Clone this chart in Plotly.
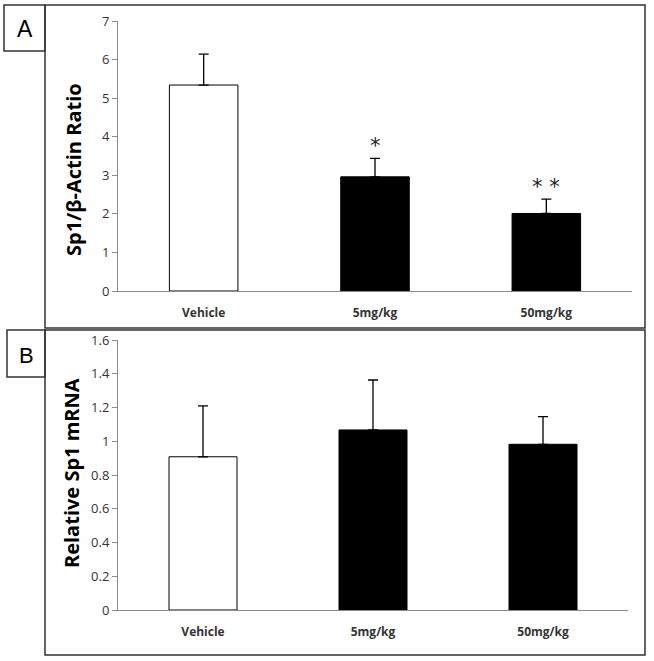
import plotly.graph_objects as go

categories = ["Vehicle", "5mg/kg", "50mg/kg"]
ratio_values = [5.34, 2.96, 2.01]
ratio_errors = [0.80, 0.48, 0.37]
mrna_values = [0.908, 1.067, 0.982]
mrna_errors = [0.302, 0.296, 0.164]
significance = ["", "*", "**"]
bar_colors = ["white", "black", "black"]

W, H = 654, 661
def px(x): return x / W
def py(y): return 1 - y / H

fig = go.Figure()
fig.add_trace(go.Bar(
    x=categories, y=ratio_values, xaxis="x", yaxis="y",
    marker=dict(color=bar_colors, line=dict(color="black", width=1)),
    error_y=dict(type="data", array=ratio_errors, arrayminus=[0, 0, 0], symmetric=False,
                 color="black", thickness=1.3, width=5),
    showlegend=False, hoverinfo="skip"))
fig.add_trace(go.Bar(
    x=categories, y=mrna_values, xaxis="x2", yaxis="y2",
    marker=dict(color=bar_colors, line=dict(color="black", width=1)),
    error_y=dict(type="data", array=mrna_errors, arrayminus=[0, 0, 0], symmetric=False,
                 color="black", thickness=1.3, width=5),
    showlegend=False, hoverinfo="skip"))

axis_common = dict(showgrid=False, zeroline=False, showline=True, linecolor="#8a8a8a",
                   linewidth=1, automargin=False, fixedrange=True)
tickfont = dict(family="Open Sans, Liberation Sans, sans-serif", size=13, color="#333333")
catfont = dict(family="Open Sans, Liberation Sans, sans-serif", size=12, color="#333333", weight="bold")
titlefont = dict(family="Open Sans, Liberation Sans, sans-serif", size=20, color="black", weight="bold")

fig.update_layout(
    width=W, height=H, margin=dict(l=0, r=0, t=0, b=0, pad=0, autoexpand=False),
    paper_bgcolor="white", plot_bgcolor="white", bargap=0.6, showlegend=False,
    xaxis=dict(domain=[px(118), px(632)], anchor="y", range=[-0.5, 2.5], ticks="",
               tickfont=catfont, ticklabelstandoff=11, **axis_common),
    yaxis=dict(domain=[py(291), py(21)], anchor="x", range=[0, 7], dtick=1, ticks="outside",
               ticklen=5, tickcolor="#8a8a8a", tickfont=tickfont, **axis_common),
    xaxis2=dict(domain=[px(118), px(628)], anchor="y2", range=[-0.5, 2.5], ticks="",
                tickfont=catfont, ticklabelstandoff=11, **axis_common),
    yaxis2=dict(domain=[py(610), py(340)], anchor="x2", range=[0, 1.6], dtick=0.2, ticks="outside",
                ticklen=5, tickcolor="#8a8a8a", tickfont=tickfont, **axis_common),
)

center = dict(xanchor="center", yanchor="middle", showarrow=False, xref="paper", yref="paper")

# axis titles
fig.add_annotation(x=px(73), y=py(170), text="Sp1/β-Actin Ratio", textangle=-90, font=titlefont, **center)
fig.add_annotation(x=px(71), y=py(473), text="Relative Sp1 mRNA", textangle=-90, font=titlefont, **center)

# significance marks
for c, v, e, s in zip(categories, ratio_values, ratio_errors, significance):
    if s:
        fig.add_annotation(x=c, y=v + e, xref="x", yref="y", text=" ".join(s), showarrow=False,
                           xanchor="center", yanchor="bottom", yshift=-2,
                           font=dict(family="DejaVu Sans, sans-serif", size=21, color="#222222"))

# panel boxes
box_line = dict(color="#333333", width=1.5)
fig.add_shape(type="rect", xref="paper", yref="paper", x0=px(45), x1=px(645), y0=py(328), y1=py(5), line=box_line)
fig.add_shape(type="rect", xref="paper", yref="paper", x0=px(45), x1=px(645), y0=py(655), y1=py(330), line=box_line)
fig.add_shape(type="rect", xref="paper", yref="paper", x0=px(4), x1=px(45), y0=py(51), y1=py(5), line=box_line)
fig.add_shape(type="rect", xref="paper", yref="paper", x0=px(7), x1=px(45), y0=py(377), y1=py(330), line=box_line)
fig.add_annotation(x=px(25), y=py(29), text="A", font=dict(family="Liberation Sans, sans-serif", size=23, color="black"), **center)
fig.add_annotation(x=px(26), y=py(355), text="B", font=dict(family="Liberation Sans, sans-serif", size=22, color="black"), **center)

fig.write_html("out.html", config={"displayModeBar": False, "staticPlot": True},
               post_script="document.body.style.margin='0';document.body.style.overflow='hidden';")
